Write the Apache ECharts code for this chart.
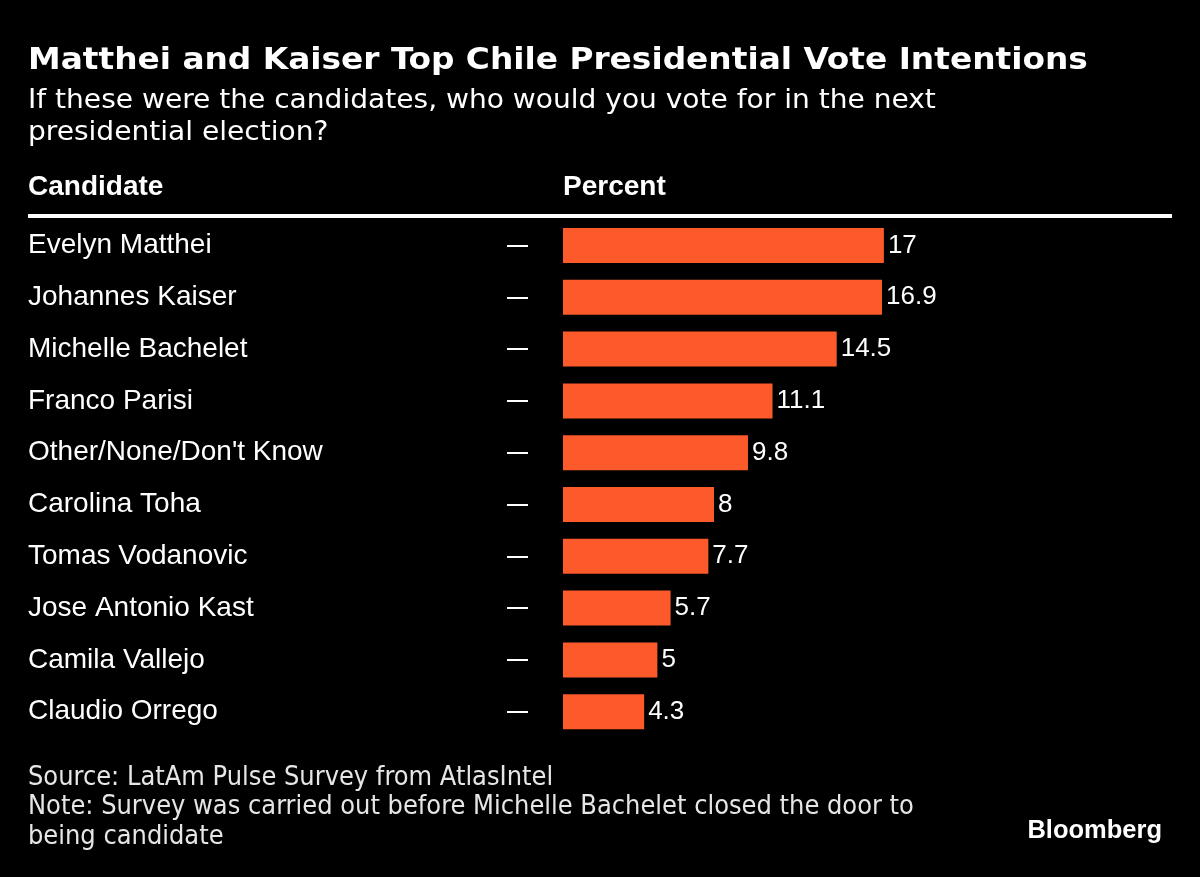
<!DOCTYPE html>
<html>
<head>
<meta charset="utf-8">
<script src="https://cdn.jsdelivr.net/npm/echarts@6/dist/echarts.min.js"></script>
<style>
html,body{margin:0;padding:0;background:#000;}
#chart{width:1200px;height:877px;}
</style>
</head>
<body>
<div id="chart"></div>
<script>
const candidates = ["Evelyn Matthei","Johannes Kaiser","Michelle Bachelet","Franco Parisi","Other/None/Don't Know","Carolina Toha","Tomas Vodanovic","Jose Antonio Kast","Camila Vallejo","Claudio Orrego"];
const percents = [17, 16.9, 14.5, 11.1, 9.8, 8, 7.7, 5.7, 5, 4.3];

const titleText = "Matthei and Kaiser Top Chile Presidential Vote Intentions";
const subtitleText = "If these were the candidates, who would you vote for in the next\npresidential election?";
const footerText = "Source: LatAm Pulse Survey from AtlasIntel\nNote: Survey was carried out before Michelle Bachelet closed the door to\nbeing candidate";

const condensed = '"DejaVu Sans Condensed", "DejaVu Sans", sans-serif';
const helv = '"Liberation Sans", Arial, sans-serif';

const chart = echarts.init(document.getElementById('chart'));
chart.setOption({
  backgroundColor: '#000000',
  animation: false,
  grid: { left: 563, right: 33, top: 219.6, bottom: 139.4, containLabel: false },
  xAxis: { type: 'value', min: 0, max: 32, show: false },
  yAxis: [
    {
      type: 'category', data: candidates, inverse: true,
      axisLine: { show: false }, axisTick: { show: false }, splitLine: { show: false },
      axisLabel: { align: 'left', margin: 535, color: '#ffffff', fontSize: 28, fontFamily: helv }
    },
    {
      type: 'category', data: candidates, inverse: true, position: 'left', offset: 35,
      axisLine: { show: false }, splitLine: { show: false },
      axisTick: { show: true, alignWithLabel: true, interval: 0, length: 21, lineStyle: { color: '#ffffff', width: 2 } },
      axisLabel: { show: false }
    }
  ],
  series: [{
    type: 'bar', data: percents, yAxisIndex: 0, barWidth: 35,
    itemStyle: { color: '#fd5a2b' },
    label: { show: true, position: 'right', distance: 4, color: '#ffffff', fontSize: 26, fontFamily: helv }
  }],
  graphic: [
    { type: 'text', x: 28, y: 45, scaleX: 1.176, style: { x: 0, y: 0, text: titleText, fill: '#ffffff', font: 'bold 31px ' + condensed, textVerticalAlign: 'top' } },
    { type: 'text', x: 28, y: 85, scaleX: 1.2, style: { x: 0, y: 0, text: subtitleText, fill: '#ffffff', font: '26px ' + condensed, lineHeight: 32, textVerticalAlign: 'top' } },
    { type: 'text', x: 28, y: 173, style: { x: 0, y: 0, text: 'Candidate', fill: '#ffffff', font: 'bold 28px ' + helv, textVerticalAlign: 'top' } },
    { type: 'text', x: 563, y: 173, style: { x: 0, y: 0, text: 'Percent', fill: '#ffffff', font: 'bold 28px ' + helv, textVerticalAlign: 'top' } },
    { type: 'rect', shape: { x: 28, y: 214, width: 1144, height: 4 }, style: { fill: '#ffffff' } },
    { type: 'text', x: 28, y: 763, scaleX: 1.035, style: { x: 0, y: 0, text: footerText, fill: '#e6e6e6', font: '26px ' + condensed, lineHeight: 29.5, textVerticalAlign: 'top' } },
    { type: 'text', x: 1162, y: 818, style: { x: 0, y: 0, text: 'Bloomberg', fill: '#ffffff', font: 'bold 25.5px ' + helv, textAlign: 'right', textVerticalAlign: 'top' } }
  ]
});
</script>
</body>
</html>
